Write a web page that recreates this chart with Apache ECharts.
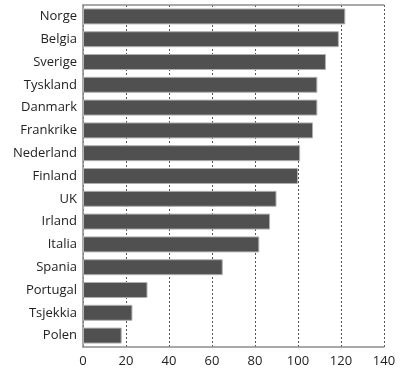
<!DOCTYPE html>
<html><head><meta charset="utf-8">
<script src="https://cdn.jsdelivr.net/npm/echarts@6/dist/echarts.min.js"></script>
<style>html,body{margin:0;padding:0;background:#fff}#c{width:400px;height:370px}</style>
</head><body><div id="c"></div>
<script>
const categories = ["Norge","Belgia","Sverige","Tyskland","Danmark","Frankrike","Nederland","Finland","UK","Irland","Italia","Spania","Portugal","Tsjekkia","Polen"];
const values = [122,119,113,109,109,107,101,100,90,87,82,65,30,23,18];
const xTicks = [0,20,40,60,80,100,120,140];

const chart = echarts.init(document.getElementById('c'), null, {renderer:'canvas'});
const font = '"Open Sans", sans-serif';
chart.setOption({
  animation:false,
  grid:{left:83,right:16,top:5,bottom:23,containLabel:false},
  xAxis:[{
    type:'value',min:xTicks[0],max:xTicks[xTicks.length-1],interval:20,position:'bottom',
    axisLine:{show:true,lineStyle:{color:'#8c8c8c',width:1.5}},
    axisTick:{show:false},
    axisLabel:{color:'#222',fontSize:13,fontFamily:font,margin:8},
    splitLine:{show:true,lineStyle:{color:'#555',type:[2,2],width:1}}
  },{
    type:'value',min:xTicks[0],max:xTicks[xTicks.length-1],interval:20,position:'top',
    axisLine:{show:true,lineStyle:{color:'#8c8c8c',width:1.5}},
    axisTick:{show:false},axisLabel:{show:false},splitLine:{show:false}
  }],
  yAxis:{
    type:'category',data:categories,inverse:true,
    axisLine:{show:true,lineStyle:{color:'#8c8c8c',width:1.5}},
    axisTick:{show:false},
    axisLabel:{color:'#222',fontSize:13,fontFamily:font,margin:6}
  },
  series:[{
    type:'bar',data:values,barCategoryGap:'30%',
    itemStyle:{color:'#505050',borderColor:'#b0b0b0',borderWidth:1}
  }]
});
</script></body></html>
